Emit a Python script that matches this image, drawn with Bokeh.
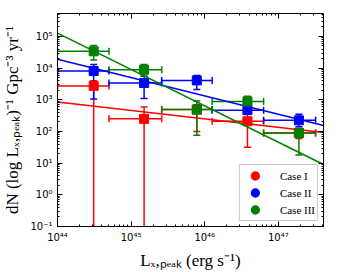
from bokeh.plotting import figure
from bokeh.models import (ColumnDataSource, Whisker, TeeHead, LogAxis, LogTicker,
                          CustomJSTickFormatter, Legend, LegendItem)
from bokeh.embed import file_html
from bokeh.resources import INLINE

# ---- data ----
x_center = [3.1e44, 1.5e45, 7.8e45, 3.8e46, 1.9e47]
x_low = [1.0e44, 5.0e44, 2.6e45, 1.26e46, 6.3e46]
x_high = [5.0e44, 2.6e45, 1.26e46, 6.3e46, 3.2e47]

case1_y = [2.75e3, 250, 490, 210, 90]
case1_up = [4.0e3, 590, 700, 350, 125]
case1_lo = [1e-3, 1e-3, 100, 32, 60]

case2_y = [8.1e3, 3.4e3, 4.1e3, 470, 225]
case2_up = [1.3e4, 5.5e3, 5.9e3, 600, 350]
case2_lo = [1.05e3, 1.1e3, 2.1e3, 370, 140]

case3_y = [3.4e4, 8.9e3, 490, 890, 89]
case3_up = [5.2e4, 1.3e4, 910, 1.3e3, 125]
case3_lo = [1.8e4, 5.5e3, 76, 650, 18]

fit_x = [1e44, 4.1e47]
case1_fit = [850, 93]
case2_fit = [1.9e4, 155]
case3_fit = [1.27e5, 9.1]

labels = ["Case I", "Case II", "Case III"]
colors = ["#ff0000", "#0000ff", "#008000"]

# ---- figure ----
p = figure(frame_width=266, frame_height=213, x_axis_type="log", y_axis_type="log",
           x_range=(1e44, 4.1e47), y_range=(0.1, 5.3e5),
           output_backend="svg", toolbar_location=None,
           min_border_left=57, min_border_right=17, min_border_top=13,
           min_border_bottom=46)
p.grid.visible = False
p.outline_line_color = "black"
p.outline_line_width = 1

sup_js = """
const m = {'-':'\u207b','0':'\u2070','1':'\u00b9','2':'\u00b2','3':'\u00b3','4':'\u2074',
           '5':'\u2075','6':'\u2076','7':'\u2077','8':'\u2078','9':'\u2079'};
const e = Math.round(Math.log10(tick));
return '10' + String(e).split('').map(c => m[c]).join('');
"""

def style_axis(ax, show_labels):
    ax.ticker = LogTicker(num_minor_ticks=10)
    ax.major_tick_in = 5
    ax.major_tick_out = 0
    ax.minor_tick_in = 2
    ax.minor_tick_out = 0
    ax.axis_line_color = "black"
    ax.major_tick_line_color = "black"
    ax.minor_tick_line_color = "black"
    if show_labels:
        ax.formatter = CustomJSTickFormatter(code=sup_js)
        ax.major_label_text_font = "DejaVu Sans"
        ax.major_label_text_font_size = "10px"
        ax.major_label_text_color = "black"
        ax.major_label_standoff = 5
    else:
        ax.formatter = CustomJSTickFormatter(code="return '';")
        ax.major_label_standoff = 0

for ax in p.xaxis:
    style_axis(ax, True)
    ax.axis_label = "L\u2093,\u209a\u2091\u2090\u2096 (erg s\u207b\u00b9)"
for ax in p.yaxis:
    style_axis(ax, True)
    ax.axis_label = "dN (log L\u2093,\u209a\u2091\u2090\u2096)\u207b\u00b9 Gpc\u207b\u00b3 yr\u207b\u00b9"
for ax in list(p.xaxis) + list(p.yaxis):
    ax.axis_label_text_font = "Liberation Serif"
    ax.axis_label_text_font_size = "17px"
    ax.axis_label_text_font_style = "normal"
    ax.axis_label_text_color = "black"
    ax.axis_label_standoff = 5

top = LogAxis()
style_axis(top, False)
p.add_layout(top, "above")
right = LogAxis()
style_axis(right, False)
p.add_layout(right, "right")

series = [
    (case1_y, case1_up, case1_lo, case1_fit),
    (case2_y, case2_up, case2_lo, case2_fit),
    (case3_y, case3_up, case3_lo, case3_fit),
]

legend_items = []
for (yv, up, lo, fit), col, lab in zip(series, colors, labels):
    p.line(fit_x, fit, line_color=col, line_width=1.6)
    src = ColumnDataSource(dict(x=x_center, y=yv, up=up, lo=lo, xl=x_low, xh=x_high))
    vw = Whisker(source=src, base="x", upper="up", lower="lo", dimension="height",
                 line_color=col, line_width=1.5,
                 upper_head=TeeHead(size=7, line_color=col, line_width=1.5),
                 lower_head=TeeHead(size=7, line_color=col, line_width=1.5))
    hw = Whisker(source=src, base="y", upper="xh", lower="xl", dimension="width",
                 line_color=col, line_width=1.5,
                 upper_head=TeeHead(size=7, line_color=col, line_width=1.5),
                 lower_head=TeeHead(size=7, line_color=col, line_width=1.5))
    p.add_layout(vw)
    p.add_layout(hw)
    p.scatter("x", "y", source=src, marker="square", size=9, fill_color=col,
              line_color=col, line_width=1)
    # legend glyph (off-screen point, shown only in the legend)
    c = p.scatter(x=[1e40], y=[1e-6], marker="circle", size=11, fill_color=col,
                  line_color=col, line_width=2.5)
    legend_items.append(LegendItem(label=lab, renderers=[c]))

leg = Legend(items=legend_items, location="bottom_right")
leg.label_text_font = "Liberation Serif"
leg.label_text_font_size = "11px"
leg.label_text_color = "black"
leg.glyph_width = 26
leg.glyph_height = 17
leg.label_height = 17
leg.spacing = 0
leg.padding = 2
leg.margin = 5
leg.border_line_color = "#999999"
leg.border_line_width = 1
leg.background_fill_alpha = 1
leg.label_standoff = 12
p.add_layout(leg)

open("out.html", "w").write(file_html(p, INLINE))
